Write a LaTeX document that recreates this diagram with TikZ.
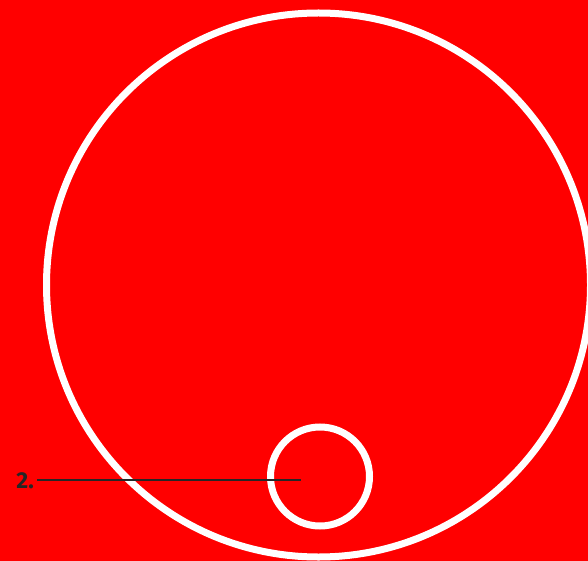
\documentclass[tikz,border=0pt]{standalone}
\usepackage{fontspec}
\setmainfont{Fira Sans}
\usetikzlibrary{shapes.geometric}
\begin{document}
\begin{tikzpicture}[x=1pt,y=-1pt,
  ring/.style={draw=white,line width=7pt,inner sep=0pt},
  leader/.style={draw=black!85,line width=2pt},
  lbl/.style={font=\fontsize{23}{23}\selectfont\bfseries,text=black!85,inner sep=0pt,anchor=base east}]
\fill[red] (0,0) rectangle (588,561);
\useasboundingbox (0,0) rectangle (588,561);
\node[ring,ellipse,minimum width=544pt,minimum height=544pt] (big) at (318.5,285) {};
\node[ring,circle,minimum size=99pt] (small) at (320,476.5) {};
\coordinate (tip) at (301,480);
\node[lbl] (two) at (34,488.5) {2.};
\draw[leader] (37,480) -- (tip);
\end{tikzpicture}
\end{document}
